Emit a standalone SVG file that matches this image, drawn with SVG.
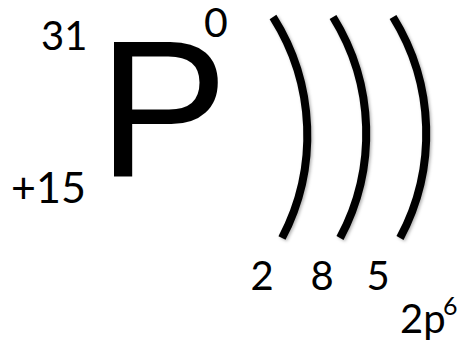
<svg xmlns="http://www.w3.org/2000/svg" width="468" height="347" viewBox="0 0 468 347">
<style>
.t{font-family:Lato,"Open Sans",sans-serif;fill:#000}
.shell{fill:none;stroke:#000;stroke-width:8;stroke-linecap:butt}
</style>
<defs>
<filter id="sh" x="-20%" y="-10%" width="140%" height="120%">
<feDropShadow dx="1.5" dy="1.5" stdDeviation="1.5" flood-color="#000" flood-opacity="0.3"/>
</filter>
</defs>
<rect width="468" height="347" fill="#fff"/>
<g id="symbol">
<text x="98" y="176" style="font-family:'Liberation Sans',Arial,sans-serif;font-size:195px">P</text>
<text class="t" x="41" y="50" font-size="40">31</text>
<text class="t" x="11" y="203" font-size="43">+15</text>
<text class="t" x="204" y="37" font-size="41">0</text>
</g>
<g id="connectors" filter="url(#sh)">
<path class="shell" d="M273,17 A221,221 0 0 1 282,238"/>
<path class="shell" d="M333,17 A221,221 0 0 1 340,238"/>
<path class="shell" d="M393,17 A221,221 0 0 1 400,238"/>
</g>
<g id="labels">
<text class="t" x="262" y="290" font-size="40" text-anchor="middle">2</text>
<text class="t" x="322" y="290" font-size="40" text-anchor="middle">8</text>
<text class="t" x="378" y="290" font-size="40" text-anchor="middle">5</text>
<text class="t" x="400" y="333" font-size="40">2p</text>
<text class="t" x="443" y="315" font-size="25">6</text>
</g>
</svg>
